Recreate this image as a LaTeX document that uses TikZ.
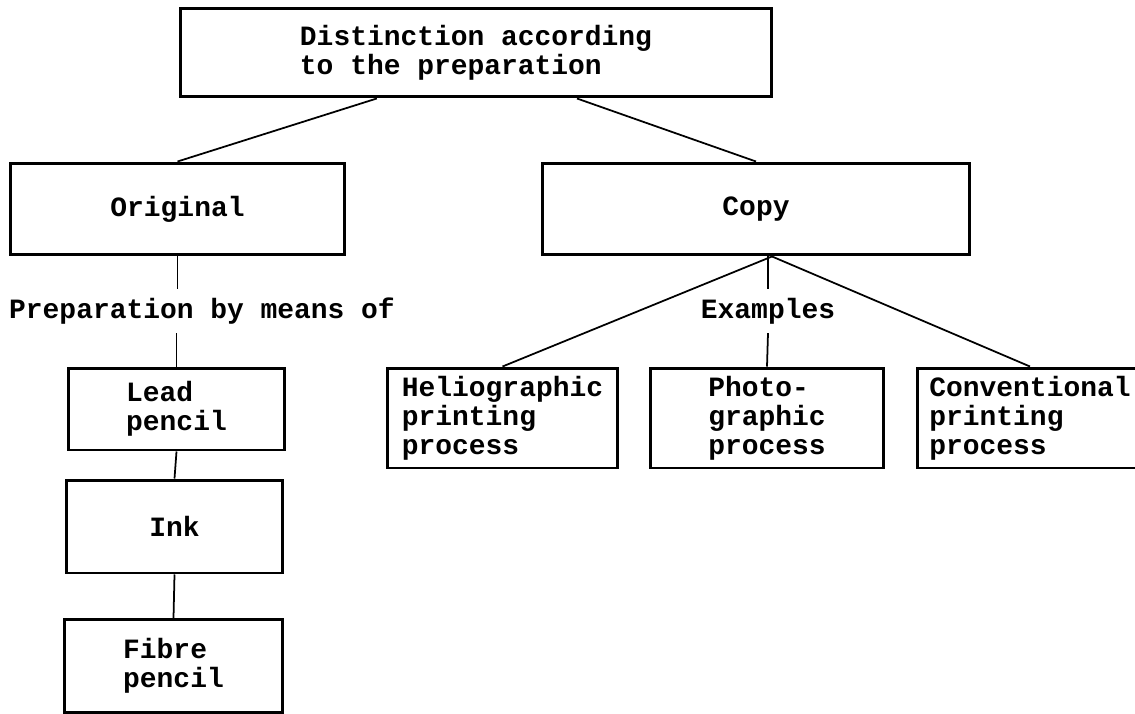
\documentclass[tikz,border=0pt]{standalone}
\usepackage{fontspec}
\setmonofont{Liberation Mono}
\usetikzlibrary{calc}
\begin{document}
\begin{tikzpicture}[
		x=0.02cm, y=-0.02cm,
		font=\ttfamily\bfseries\fontsize{15.9pt}{16.4pt}\selectfont,
		box/.style = {rectangle, draw=black, line width=1.7pt, align=left, inner sep=0pt},
		txt/.style = {inner sep=5pt},
		ln/.style  = {line width=1pt}
		]
		\useasboundingbox (0,0) rectangle (1135,713);
		
		%Nodes
		\node[box, minimum width=11.82cm, minimum height=1.78cm]	(dist)	at (476, 52.5)	{Distinction according\\to the preparation};
		\node[box, minimum width=6.7cm, minimum height=1.84cm]	(orig)	at (177.5, 209)	{Original};
		\node[box, minimum width=8.56cm, minimum height=1.84cm]	(copy)	at (756, 209)	{Copy};
		\node[txt]	(prep)	at (202, 311)	{Preparation by means of};
		\node[txt]	(examp)	at (768, 311)	{Examples};
		\node[box, minimum width=4.34cm, minimum height=1.64cm]	(lead)	at (176.5, 409)	{Lead\\pencil};
		\node[box, minimum width=4.34cm, minimum height=1.86cm]	(ink)	at (174.5, 526.5)	{Ink};
		\node[box, minimum width=4.38cm, minimum height=1.86cm]	(fibre)	at (173.5, 666)	{Fibre\\pencil};
		\node[box, minimum width=4.62cm, minimum height=2cm]	(helio)	at (502.5, 418)	{Heliographic\\printing\\process};
		\node[box, minimum width=4.68cm, minimum height=2cm]	(photo)	at (767, 418)	{Photo-\\graphic\\process};
		\node[box, minimum width=4.5cm, minimum height=2cm]	(conv)	at (1030, 418)	{Conventional\\printing\\process};
		
		%Lines
		\coordinate (apex) at ($(copy.south)+(16,0)$);
		\draw[ln] ($(dist.south west)!.333!(dist.south east)$) -- (orig.north);
		\draw[ln] ($(dist.south west)!.67!(dist.south east)$) -- (copy.north);
		\draw[ln] (orig.south) -- (orig.south |- prep.north);
		\draw[ln] (lead.north) -- (lead.north |- prep.south);
		\draw[ln] (lead.south) -- (ink.north);
		\draw[ln] (ink.south) -- (fibre.north);
		\draw[ln] (apex) -- (helio.north);
		\draw[ln] (apex) -- (conv.north);
		\draw[ln] (examp.north) -- (examp.north |- copy.south);
		\draw[ln] (examp.south) -- (photo.north);
		
	\end{tikzpicture}
\end{document}
